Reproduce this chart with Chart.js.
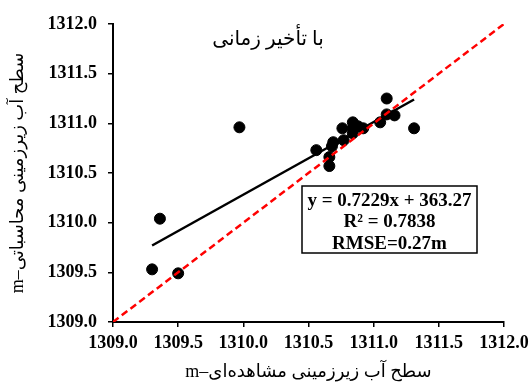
<!DOCTYPE html>
<html>
<head>
<meta charset="utf-8">
<script src="https://cdn.jsdelivr.net/npm/chart.js@4/dist/chart.umd.min.js"></script>
<style>
  body { margin: 0; background: #fff; }
  #wrap { width: 532px; height: 389px; }
</style>
</head>
<body>
<div id="wrap"><canvas id="chart" width="532" height="389"></canvas></div>
<script>
// observed vs. simulated groundwater level (m)
const observed = [1309.30, 1309.50, 1309.36, 1309.97, 1310.56, 1310.66, 1310.66, 1310.69, 1310.68, 1310.77, 1310.76,
                  1310.84, 1310.84, 1310.84, 1310.88, 1310.92, 1311.05, 1311.10, 1311.16, 1311.10, 1311.31];
const simulated = [1309.53, 1309.49, 1310.04, 1310.96, 1310.73, 1310.66, 1310.57, 1310.81, 1310.77, 1310.83, 1310.95,
                   1311.01, 1310.95, 1310.90, 1310.97, 1310.95, 1311.01, 1311.09, 1311.08, 1311.25, 1310.95];

// trend line ends
const trendX = [1309.30, 1311.31];
const trendY = [1309.77, 1311.24];

// 1:1 line
const oneToOne = [1309.0, 1312.0];

const xTicks = [1309.0, 1309.5, 1310.0, 1310.5, 1311.0, 1311.5, 1312.0];
const yTicks = [1309.0, 1309.5, 1310.0, 1310.5, 1311.0, 1311.5, 1312.0];

const chartTitle = 'با تأخیر زمانی';
const xTitle = 'سطح آب زیرزمینی مشاهده‌ای–m';
const yTitle = 'سطح آب زیرزمینی محاسباتی–m';
const statLines = ['y = 0.7229x + 363.27', 'R² = 0.7838', 'RMSE=0.27m'];

const RLE = '\u202B', PDF = '\u202C';
const serif = "'Liberation Serif', 'DejaVu Sans', serif";

const ctx = document.getElementById('chart').getContext('2d');

const textPlugin = {
    id: 'notes',
    afterDraw(chart) {
        const c = chart.ctx;
        const area = chart.chartArea;
        c.save();
        // title inside plot
        c.fillStyle = '#000';
        c.textAlign = 'center';
        c.textBaseline = 'middle';
        c.font = "20px " + serif;
        c.fillText(RLE + chartTitle + PDF, area.left + 155, area.top + 16);

        // stats box
        const bx = area.left + 189, by = area.top + 162, bw = 175, bh = 67;
        c.fillStyle = '#fff';
        c.fillRect(bx, by, bw, bh);
        c.strokeStyle = '#000';
        c.lineWidth = 1.5;
        c.strokeRect(bx, by, bw, bh);
        c.fillStyle = '#000';
        c.font = "bold 19px " + serif;
        statLines.forEach((t, i) => {
            c.fillText(t, bx + bw / 2, by + 15 + i * 21.3);
        });
        c.restore();
    }
};

const chart = new Chart(ctx, {
    type: 'scatter',
    data: {
        datasets: [{
            label: '1:1',
            type: 'line',
            data: oneToOne.map(v => ({ x: v, y: v })),
            borderColor: '#ff0000',
            borderWidth: 2.5,
            borderDash: [7, 4],
            pointRadius: 0,
            fill: false
        }, {
            label: 'trend',
            type: 'line',
            data: trendX.map((x, i) => ({ x: x, y: trendY[i] })),
            borderColor: '#000',
            borderWidth: 2.5,
            pointRadius: 0,
            fill: false
        }, {
            label: 'points',
            data: observed.map((x, i) => ({ x: x, y: simulated[i] })),
            backgroundColor: '#000',
            borderColor: '#000',
            pointRadius: 5.5,
            pointHoverRadius: 5.5
        }]
    },
    options: {
        responsive: false,
        animation: false,
        events: [],
        layout: { padding: { top: 24, right: 28, left: 0, bottom: 0 } },
        plugins: {
            legend: { display: false },
            tooltip: { enabled: false }
        },
        scales: {
            x: {
                type: 'linear',
                min: 1309,
                max: 1312,
                afterBuildTicks: s => { s.ticks = xTicks.map(v => ({ value: v })); },
                afterFit: s => { s.height = 67; s.paddingLeft = 0; s.paddingRight = 0; },
                ticks: {
                    color: '#000',
                    font: { family: serif, size: 18, weight: 'bold' },
                    padding: 6,
                    maxRotation: 0,
                    callback: v => v.toFixed(1)
                },
                grid: { drawOnChartArea: false, drawTicks: true, tickLength: 5, color: '#000', lineWidth: 1.5 },
                border: { color: '#000', width: 2 },
                title: {
                    display: true,
                    text: RLE + xTitle + PDF,
                    color: '#000',
                    font: { family: serif, size: 18 },
                    padding: { top: 0, bottom: 6 }
                }
            },
            y: {
                type: 'linear',
                min: 1309,
                max: 1312,
                afterBuildTicks: s => { s.ticks = yTicks.map(v => ({ value: v })); },
                afterFit: s => { s.width = 113; s.paddingTop = 0; s.paddingBottom = 0; },
                ticks: {
                    color: '#000',
                    font: { family: serif, size: 18, weight: 'bold' },
                    padding: 11,
                    callback: v => v.toFixed(1)
                },
                grid: { drawOnChartArea: false, drawTicks: true, tickLength: 5, color: '#000', lineWidth: 1.5 },
                border: { color: '#000', width: 2 },
                title: {
                    display: true,
                    text: RLE + yTitle + PDF,
                    color: '#000',
                    font: { family: serif, size: 18 },
                    padding: { top: 7, bottom: 0 }
                }
            }
        }
    },
    plugins: [textPlugin]
});
</script>
</body>
</html>
